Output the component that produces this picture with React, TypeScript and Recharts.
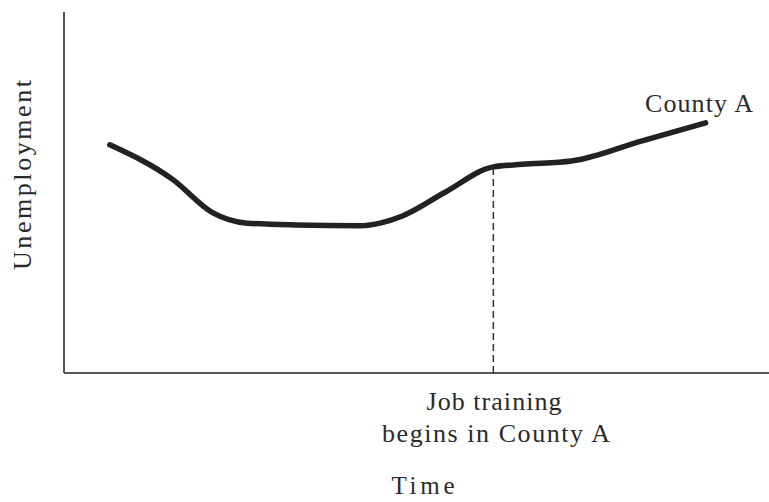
import React from 'react';
import { LineChart, Line, XAxis, YAxis, ReferenceLine, Customized } from 'recharts';

// Time (arbitrary units 0..100) and unemployment level (arbitrary units 0..100)
const timePoints = [6.5, 15.5, 21, 26, 33, 42, 45, 48, 54, 60.9, 65, 72, 82, 91];
const countyA = [63.2, 53.5, 44.5, 41.5, 41, 40.8, 41.6, 43.5, 50, 57.1, 57.8, 58.7, 64.3, 69.3];
const trainingIndex = 9;

const seriesLabel = 'County A';
const xTitle = 'Time';
const yTitle = 'Unemployment';
const eventLines = ['Job training', 'begins in County A'];

const data = timePoints.map((t, i) => ({ t, v: countyA[i] }));
const trainingT = timePoints[trainingIndex];
const trainingV = countyA[trainingIndex];

const FONT = '"Liberation Serif", "Times New Roman", serif';

const Labels = () => (
  <g fontFamily={FONT} fill="#2a2a2a">
    <text x={699} y={112} fontSize={26} textAnchor="middle" textLength={108} lengthAdjust="spacing">{seriesLabel}</text>
    <text x={494} y={410} fontSize={26} textAnchor="middle" textLength={135} lengthAdjust="spacing">{eventLines[0]}</text>
    <text x={496} y={442} fontSize={26} textAnchor="middle" textLength={228} lengthAdjust="spacing">{eventLines[1]}</text>
    <text x={423} y={494} fontSize={25} textAnchor="middle" textLength={63} lengthAdjust="spacing">{xTitle}</text>
    <text x={31} y={175} fontSize={26} textAnchor="middle" textLength={190} lengthAdjust="spacing" transform="rotate(-90, 31, 175)">{yTitle}</text>
  </g>
);

export default function App() {
  return (
    <div style={{ position: 'absolute', left: 0, top: 0, background: '#fff' }}>
      <LineChart width={769} height={502} data={data} margin={{ top: 12, right: 0, left: 64, bottom: 129 }}>
        <XAxis dataKey="t" type="number" domain={[0, 100]} hide />
        <YAxis type="number" domain={[0, 100]} hide />
        <ReferenceLine x={0} stroke="#555" strokeWidth={2} ifOverflow="visible" />
        <ReferenceLine y={0} stroke="#555" strokeWidth={2} ifOverflow="visible" />
        <ReferenceLine segment={[{ x: trainingT, y: 0 }, { x: trainingT, y: trainingV }]}
          stroke="#333" strokeWidth={1.5} strokeDasharray="7 4" ifOverflow="visible" />
        <Line dataKey="v" type="monotone" stroke="#222" strokeWidth={5.5} dot={false}
          strokeLinecap="round" strokeLinejoin="round" isAnimationActive={false} />
        <Customized component={Labels} />
      </LineChart>
    </div>
  );
}
